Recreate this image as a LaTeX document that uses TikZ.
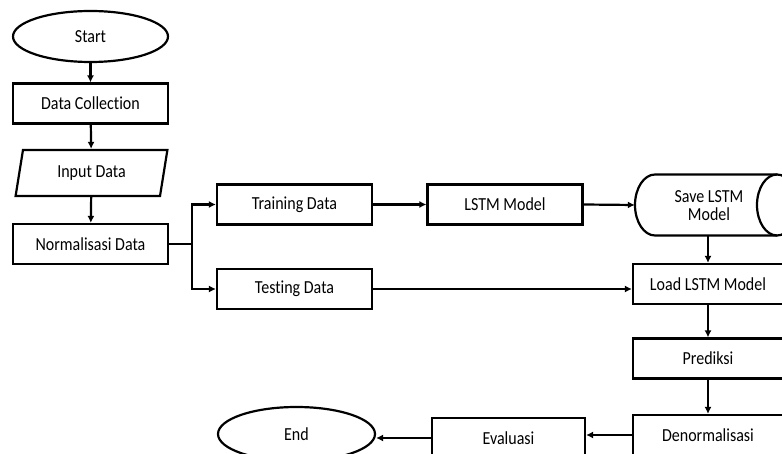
\documentclass[tikz,border=0pt]{standalone}
\usepackage{graphicx}
\usepackage{fontspec}
\setmainfont[Ligatures=NoCommon]{Carlito}
\usetikzlibrary{arrows.meta,shapes.geometric,calc}
\newcommand{\tallt}[1]{\scalebox{1}[1.15]{#1}}
\begin{document}
\begin{tikzpicture}[x=1pt,y=-1pt,
  every node/.style={font=\fontsize{16}{19}\selectfont},
  ln/.style={line width=2.2pt},
  box/.style={draw,ln,rectangle,minimum width=155pt,minimum height=40pt,inner sep=0pt},
  term/.style={draw,ln,ellipse,minimum width=155pt,minimum height=51pt,inner sep=0pt},
  arr/.style={ln,-{Latex[length=7pt,width=7pt]}}]
\useasboundingbox (0,0) rectangle (782,454);
\clip (0,0) rectangle (782,454);

\node[term] (start) at (90.5,36.5) {\tallt{Start}};
\node[box] (dc) at (90.5,103.5) {\tallt{Data Collection}};
\node[draw,ln,trapezium,trapezium left angle=76,trapezium right angle=104,
      minimum width=153pt,minimum height=46pt,inner sep=0pt,
      trapezium stretches=true] (input) at (91.5,173) {\tallt{Input Data}};
\node[box] (norm) at (90.5,244) {\tallt{Normalisasi Data}};

\node[box] (train) at (294.5,204.5) {\tallt{Training Data}};
\node[box] (test) at (294.5,289) {\tallt{Testing Data}};
\node[box] (lstm) at (505,204.5) {\tallt{LSTM Model}};

% Save LSTM Model storage shape
\node[minimum width=162pt,minimum height=61pt,inner sep=0pt] (savebox) at (716,205) {};
\node[align=center] (save) at (709,206) {\tallt{Save LSTM}\\[-1pt]\tallt{Model}};
\draw[ln] (777,174.5) -- (655,174.5)
  arc[start angle=270,end angle=90,x radius=20,y radius=30.5] -- (777,235.5);
\draw[ln] (777,205) ellipse[x radius=20,y radius=30.5];

\node[box,minimum width=150pt] (load) at (708,284) {\tallt{Load LSTM Model}};
\node[box,minimum width=150pt] (pred) at (708,358.5) {\tallt{Prediksi}};
\node[box,minimum width=150pt] (denorm) at (708,435) {\tallt{Denormalisasi}};
\node[box,minimum width=153pt] (eval) at (508.5,438) {\tallt{Evaluasi}};
\node[term,minimum width=157pt,minimum height=54pt] (end) at (296.5,434) {\tallt{End}};

\draw[arr] (start) -- (dc);
\draw[arr] (dc) -- (input);
\draw[arr] (input) -- (norm);
\draw[arr] (norm.east) -- ++(23,0) |- (train.west);
\draw[arr] (norm.east) -- ++(23,0) |- (test.west);
\draw[arr] (train) -- (lstm);
\draw[arr] (lstm.east) -- (savebox.west);
\draw[arr] (savebox.south -| load.north) -- (load.north);
\draw[arr] (test.east) -- (test.east -| load.west);
\draw[arr] (load) -- (pred);
\draw[arr] (pred) -- (denorm);
\draw[arr] (denorm.west) -- (denorm.west -| eval.east);
\draw[arr] (eval.west) -- (eval.west -| end.east);
\end{tikzpicture}
\end{document}
